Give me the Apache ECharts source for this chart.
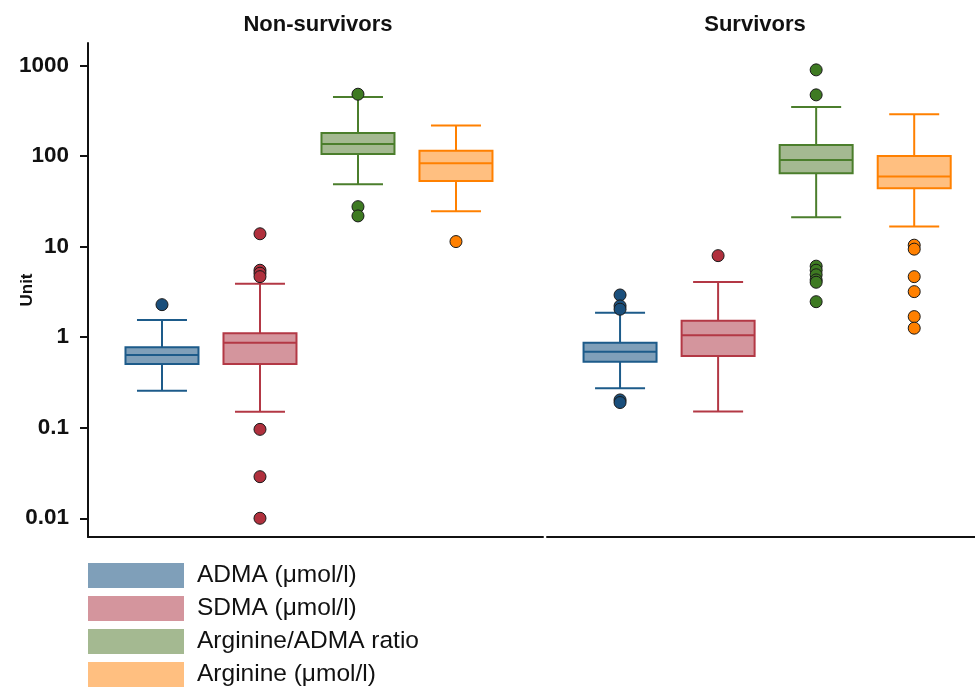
<!DOCTYPE html>
<html>
<head>
<meta charset="utf-8">
<script src="https://cdn.jsdelivr.net/npm/echarts@6/dist/echarts.min.js"></script>
<style>
  html, body { margin: 0; padding: 0; background: #fff; }
  #chart { width: 975px; height: 697px; }
</style>
</head>
<body>
<div id="chart"></div>
<script>
// Marker groups, in plotting order within each panel
const groups = ['ADMA (μmol/l)', 'SDMA (μmol/l)', 'Arginine/ADMA ratio', 'Arginine (μmol/l)'];
const panels = ['Non-survivors', 'Survivors'];
const yTicks = [0.01, 0.1, 1, 10, 100, 1000];

// Box summaries per group: [lower whisker, Q1, median, Q3, upper whisker]
const nonSurvivorBoxes = [
  [0.257, 0.507, 0.637, 0.776, 1.55],
  [0.15, 0.507, 0.87, 1.11, 3.9],
  [49, 106, 136, 180, 452],
  [24.7, 53.3, 83.7, 115, 218]
];
const survivorBoxes = [
  [0.273, 0.537, 0.693, 0.87, 1.87],
  [0.151, 0.621, 1.05, 1.52, 4.08],
  [21.2, 64.9, 91, 133, 350],
  [16.7, 44.3, 59.5, 100.7, 291]
];

// Outlying observations per group
const nonSurvivorOutliers = [
  [2.29],
  [13.9, 5.5, 5.1, 4.67, 0.096, 0.0288, 0.01],
  [484, 27.7, 21.9],
  [11.4]
];
const survivorOutliers = [
  [2.93, 2.22, 2.04, 0.203, 0.19],
  [7.97],
  [899, 476, 6.1, 5.5, 4.9, 4.3, 4.05, 2.47],
  [10.4, 9.4, 4.67, 3.19, 1.69, 1.26]
];

const lineColors = ['#1d5b8a', '#b33845', '#4b7e2c', '#ff8000'];
const fillColors = ['#7f9fb9', '#d4959d', '#a4b991', '#ffbf80'];
const dotColors = ['#1a4f7c', '#b0303d', '#3e7a22', '#ff8000'];

const FONT = "'Liberation Sans', Arial, sans-serif";
const BOX_W = 73;
const CAP_W = 50;
const Y_MIN = 0.00621;
const Y_MAX = 1781;

function makeBoxRenderer(idx) {
  return function (params, api) {
    const x = api.value(0);
    const pLow = api.coord([x, api.value(1)]);
    const pQ1 = api.coord([x, api.value(2)]);
    const pMed = api.coord([x, api.value(3)]);
    const pQ3 = api.coord([x, api.value(4)]);
    const pHigh = api.coord([x, api.value(5)]);
    const cx = pMed[0];
    const hb = BOX_W / 2, hc = CAP_W / 2;
    const stroke = { stroke: lineColors[idx], lineWidth: 2, fill: null };
    return {
      type: 'group',
      children: [
        { type: 'line', shape: { x1: cx, y1: pQ3[1], x2: cx, y2: pHigh[1] }, style: stroke },
        { type: 'line', shape: { x1: cx, y1: pQ1[1], x2: cx, y2: pLow[1] }, style: stroke },
        { type: 'line', shape: { x1: cx - hc, y1: pHigh[1], x2: cx + hc, y2: pHigh[1] }, style: stroke },
        { type: 'line', shape: { x1: cx - hc, y1: pLow[1], x2: cx + hc, y2: pLow[1] }, style: stroke },
        { type: 'rect', shape: { x: cx - hb, y: pQ3[1], width: BOX_W, height: pQ1[1] - pQ3[1] },
          style: { fill: fillColors[idx], stroke: lineColors[idx], lineWidth: 2 } },
        { type: 'line', shape: { x1: cx - hb, y1: pMed[1], x2: cx + hb, y2: pMed[1] }, style: stroke }
      ]
    };
  };
}

const boxSets = [nonSurvivorBoxes, survivorBoxes];
const outlierSets = [nonSurvivorOutliers, survivorOutliers];

const series = [];
boxSets.forEach(function (boxes, panel) {
  boxes.forEach(function (b, i) {
    series.push({
      name: groups[i],
      type: 'custom',
      xAxisIndex: panel,
      yAxisIndex: panel,
      itemStyle: { color: fillColors[i] },
      renderItem: makeBoxRenderer(i),
      encode: { x: 0, y: [1, 2, 3, 4, 5] },
      data: [[i + 1].concat(b)],
      z: 2,
      silent: true
    });
  });
  outlierSets[panel].forEach(function (vals, i) {
    series.push({
      name: panels[panel] + ' outliers ' + (i + 1),
      type: 'scatter',
      xAxisIndex: panel,
      yAxisIndex: panel,
      symbol: 'circle',
      symbolSize: 12,
      itemStyle: { color: dotColors[i], borderColor: '#1a1a1a', borderWidth: 1, opacity: 1 },
      data: vals.map(function (v) { return [i + 1, v]; }),
      z: 3,
      silent: true
    });
  });
});

const axisLine = { show: true, lineStyle: { color: '#111', width: 2 } };

const chart = echarts.init(document.getElementById('chart'), null, { renderer: 'canvas' });
chart.setOption({
  animation: false,
  backgroundColor: '#fff',
  title: [
    { text: panels[0], left: 318, top: 14, textAlign: 'center', padding: 0,
      textStyle: { fontFamily: FONT, fontSize: 22, fontWeight: 'bold', color: '#111' } },
    { text: panels[1], left: 755, top: 14, textAlign: 'center', padding: 0,
      textStyle: { fontFamily: FONT, fontSize: 22, fontWeight: 'bold', color: '#111' } }
  ],
  legend: {
    orient: 'vertical',
    left: 88,
    top: 563,
    padding: 0,
    itemWidth: 96,
    itemHeight: 25,
    itemGap: 8,
    icon: 'rect',
    selectedMode: false,
    data: groups.map(function (g, i) {
      return { name: g, itemStyle: { color: fillColors[i], borderWidth: 0 } };
    }),
    textStyle: { fontFamily: FONT, fontSize: 24.5, color: '#111', padding: [4, 0, 0, 8] }
  },
  grid: [
    { left: 88, top: 43, width: 455, height: 494, outerBoundsMode: 'none' },
    { left: 547, top: 43, width: 428, height: 494, outerBoundsMode: 'none' }
  ],
  xAxis: [
    { type: 'value', gridIndex: 0, min: 0.245, max: 4.888, axisLine: axisLine,
      axisTick: { show: false }, axisLabel: { show: false }, splitLine: { show: false } },
    { type: 'value', gridIndex: 1, min: 0.255, max: 4.62, axisLine: axisLine,
      axisTick: { show: false }, axisLabel: { show: false }, splitLine: { show: false } }
  ],
  yAxis: [
    {
      type: 'log', gridIndex: 0, logBase: 10, min: Y_MIN, max: Y_MAX,
      name: 'Unit', nameLocation: 'middle', nameGap: 52, nameRotate: 90,
      nameMoveOverlap: false,
      nameTextStyle: { fontFamily: FONT, fontSize: 17, fontWeight: 'bold', color: '#111' },
      axisLine: axisLine,
      axisTick: { show: true, length: 8, lineStyle: { color: '#111', width: 2 }, customValues: yTicks },
      axisLabel: {
        fontFamily: FONT, fontSize: 22.5, fontWeight: 'bold', color: '#111', margin: 19,
        customValues: yTicks,
        formatter: function (v) { return String(v); }
      },
      splitLine: { show: false }
    },
    {
      type: 'log', gridIndex: 1, logBase: 10, min: Y_MIN, max: Y_MAX,
      axisLine: { show: false }, axisTick: { show: false }, axisLabel: { show: false },
      splitLine: { show: false }
    }
  ],
  series: series
});
</script>
</body>
</html>
